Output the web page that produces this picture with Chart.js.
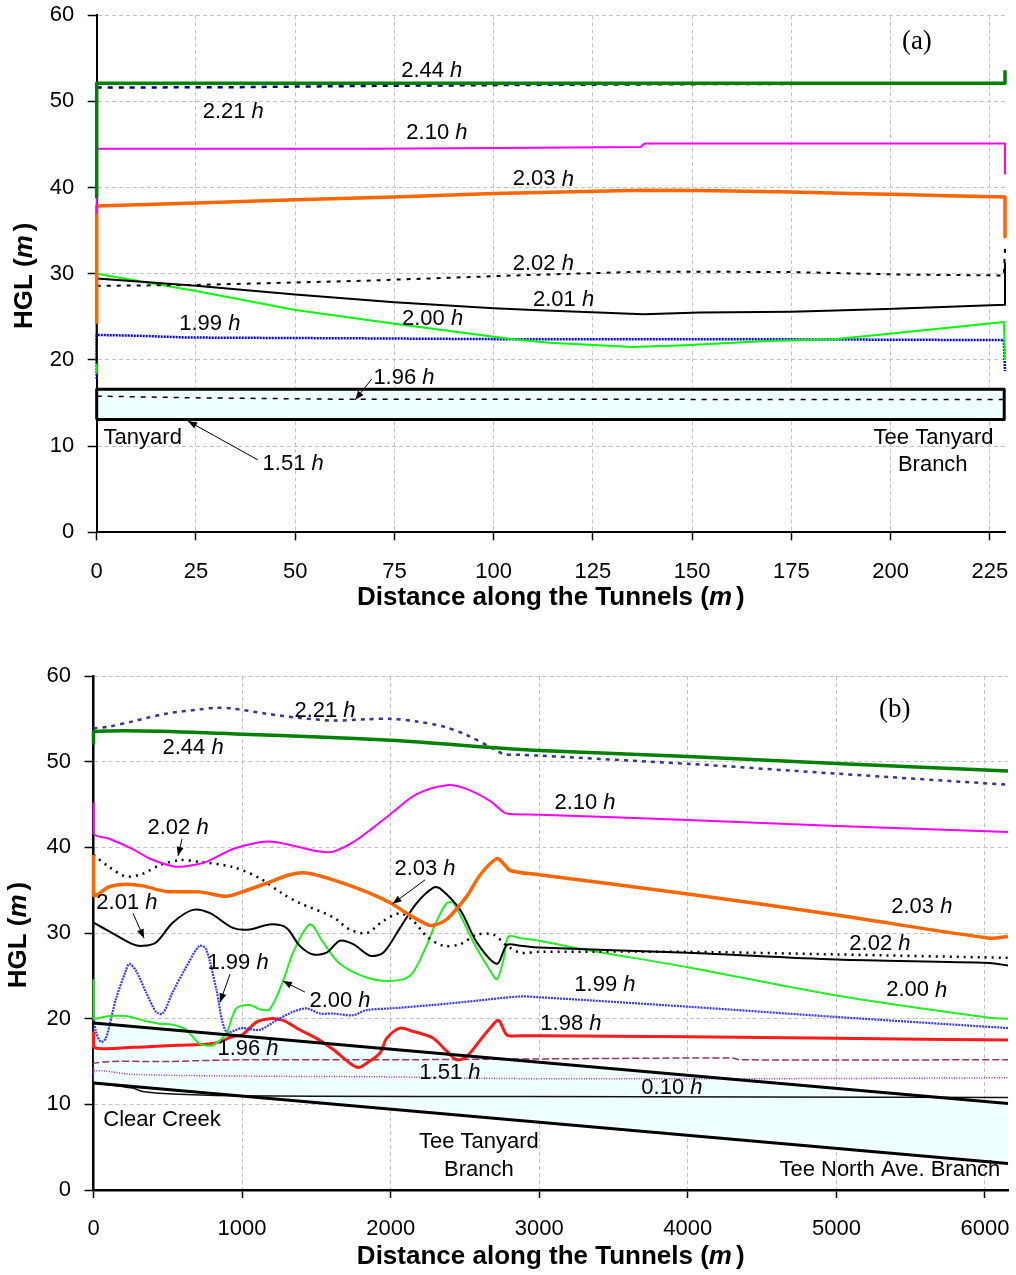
<!DOCTYPE html>
<html><head><meta charset="utf-8">
<script src="https://cdn.jsdelivr.net/npm/chart.js@4.4.0/dist/chart.umd.min.js"></script>
<style>
html,body{margin:0;padding:0;background:#fff;}
#wrap{position:relative;width:1016px;height:1275px;background:#fff;}
canvas{position:absolute;left:0;}
#ca{top:0;} #cb{top:640px;}
</style></head><body>
<div id="wrap"><canvas id="ca" width="1016" height="620"></canvas><canvas id="cb" width="1016" height="635"></canvas></div>
<script>
// ---------------- tick labels ----------------
const yTicks = [0, 10, 20, 30, 40, 50, 60];
const aXTicks = [0, 25, 50, 75, 100, 125, 150, 175, 200, 225];
const bXTicks = [0, 1000, 2000, 3000, 4000, 5000, 6000];
const aXMax = 228.8;
const bXMax = 6155;

// ---------------- panel (a): distance (m) / HGL (m) ----------------
const aDist244 = [0, 0, 228.8, 228.8];
const aHgl244  = [38.8, 52.1, 52.1, 53.6];
const aDist221 = [0, 35, 70, 105, 150, 228.8];
const aHgl221  = [51.6, 51.65, 51.8, 51.9, 52.0, 52.1];
const aDist210 = [0, 0, 70, 101, 137, 138, 228.8, 228.8];
const aHgl210  = [37.0, 44.5, 44.5, 44.6, 44.7, 45.1, 45.1, 41.6];
const aDist203 = [0, 0, 25, 50, 75, 100, 137, 152, 175, 190, 203, 214, 223, 228.8, 228.8];
const aHgl203  = [24.2, 37.85, 38.2, 38.6, 38.9, 39.3, 39.7, 39.65, 39.5, 39.3, 39.2, 39.05, 38.95, 38.9, 34.3];
const aDist202 = [0, 25, 68, 105, 138, 175, 203, 228.5, 228.8];
const aHgl202  = [28.6, 28.7, 29.2, 29.8, 30.25, 30.2, 29.9, 29.8, 33.0];
const aDist201 = [0, 0, 25, 50, 75, 100, 110, 137.7, 152, 175, 199, 228.8, 228.8];
const aHgl201  = [19.6, 29.45, 28.6, 27.6, 26.7, 26.0, 25.8, 25.3, 25.5, 25.6, 25.9, 26.4, 31.3];
const aDist200 = [0, 0, 25, 50, 75, 100, 105, 114, 135, 148, 169, 185.6, 199, 228.5, 228.8];
const aHgl200  = [18.4, 30.0, 28.0, 25.8, 24.2, 22.7, 22.4, 22.0, 21.5, 21.7, 22.2, 22.4, 23.0, 24.4, 20.0];
const aDist199 = [0, 0, 11, 22.8, 68.5, 105, 168, 228.5, 228.8];
const aHgl199  = [17.8, 22.9, 22.8, 22.6, 22.5, 22.4, 22.4, 22.3, 18.7];
const aDist196 = [0, 25, 60, 228.8];
const aHgl196  = [15.8, 15.6, 15.45, 15.4];
const aDist151 = [0, 228.6];
const aHgl151  = [13.1, 13.1];
const aTunnelX      = [0, 228.6];
const aTunnelTop    = [16.6, 16.6];
const aTunnelBottom = [13.1, 13.1];

// ---------------- panel (b) ----------------
const bDist244 = [0, 0, 1000, 2000, 2730, 3000, 4000, 5000, 6155];
const bHgl244  = [52.0, 53.5, 53.2, 52.5, 51.6, 51.3, 50.6, 49.8, 48.9];
const bDist221 = [0, 106, 263, 488, 713, 826, 938, 1163, 1388, 1613, 1838, 2000, 2175, 2355, 2513, 2693, 2760, 2873, 3000, 4000, 5000, 6155];
const bHgl221  = [53.9, 54.1, 54.7, 55.6, 56.1, 56.3, 56.2, 55.6, 55.1, 54.8, 54.95, 55.0, 54.7, 54.1, 53.1, 51.5, 50.9, 50.8, 50.7, 49.75, 48.6, 47.3];
const bDist210 = [0, 0, 106, 263, 376, 533, 623, 758, 938, 1118, 1231, 1388, 1523, 1613, 1748, 1883, 2000, 2175, 2378, 2513, 2670, 2760, 2800, 3000, 4000, 5000, 6155];
const bHgl210  = [45.2, 41.6, 41.0, 39.8, 38.7, 37.8, 37.8, 38.3, 39.8, 40.6, 40.6, 40.0, 39.5, 39.5, 40.6, 42.3, 43.9, 46.2, 47.25, 46.8, 45.4, 44.1, 43.9, 43.8, 43.2, 42.5, 41.8];
const bDist203 = [0, 0, 106, 218, 331, 488, 713, 893, 1000, 1163, 1320, 1433, 1613, 1838, 2000, 2108, 2243, 2288, 2378, 2513, 2603, 2715, 2760, 2805, 3000, 4000, 5000, 6030, 6155];
const bHgl203  = [39.1, 34.4, 35.4, 35.7, 35.5, 34.85, 34.8, 34.3, 34.8, 35.8, 36.8, 37.0, 36.2, 34.8, 33.5, 32.3, 31.0, 30.9, 31.6, 34.3, 36.8, 38.7, 38.1, 37.3, 36.8, 34.55, 32.1, 29.4, 29.6];
const bDist202 = [0, 106, 218, 331, 443, 578, 713, 938, 1118, 1276, 1388, 1613, 1725, 1838, 1950, 2063, 2153, 2243, 2355, 2468, 2580, 2693, 2783, 2873, 3000, 4000, 5000, 6155];
const bHgl202  = [39.1, 37.7, 36.6, 36.9, 37.9, 38.5, 38.3, 37.7, 36.4, 34.55, 33.5, 31.85, 30.4, 30.0, 31.4, 32.3, 31.4, 29.6, 28.5, 28.7, 29.8, 29.8, 28.5, 27.7, 27.8, 27.8, 27.5, 27.1];
const bDist201 = [0, 106, 263, 331, 421, 533, 668, 781, 938, 1051, 1186, 1298, 1388, 1478, 1568, 1658, 1748, 1861, 1950, 2063, 2175, 2288, 2333, 2468, 2580, 2715, 2783, 2873, 3000, 4000, 5000, 6030, 6155];
const bHgl201  = [31.2, 30.2, 28.7, 28.5, 28.9, 31.2, 32.7, 32.35, 30.6, 30.4, 31.0, 30.6, 28.5, 27.5, 27.7, 29.1, 28.7, 27.35, 27.7, 30.6, 33.5, 35.3, 35.2, 32.7, 28.9, 26.4, 28.6, 28.5, 28.3, 27.7, 26.9, 26.5, 26.2];
const bDist200 = [0, 0, 16, 106, 218, 331, 443, 533, 623, 713, 803, 893, 961, 1051, 1118, 1186, 1276, 1343, 1456, 1546, 1658, 1838, 2000, 2130, 2220, 2310, 2378, 2423, 2558, 2670, 2715, 2760, 2794, 2873, 3000, 3292, 4000, 5000, 6030, 6155];
const bHgl200  = [24.6, 20.0, 20.0, 20.3, 20.3, 19.8, 19.4, 19.3, 18.7, 17.1, 16.9, 18.3, 21.2, 21.6, 21.1, 21.1, 24.4, 27.7, 31.0, 28.9, 26.4, 24.8, 24.4, 25.0, 27.7, 31.4, 33.5, 33.5, 28.9, 25.6, 24.6, 26.9, 29.6, 29.4, 29.1, 28.1, 26.0, 22.7, 20.1, 20.0];
const bDist199 = [0, 16, 49, 83, 151, 218, 241, 286, 353, 421, 466, 533, 623, 713, 758, 826, 893, 1000, 1118, 1231, 1343, 1433, 1523, 1613, 1748, 1838, 2000, 2288, 2580, 2873, 3000, 4000, 5000, 6155];
const bHgl199  = [20.2, 18.5, 17.3, 17.7, 22.3, 25.6, 26.4, 25.6, 23.1, 20.8, 20.6, 23.1, 26.0, 28.5, 28.1, 23.5, 18.5, 18.9, 18.7, 19.8, 20.8, 21.2, 20.6, 20.6, 20.4, 21.0, 21.2, 21.6, 22.1, 22.6, 22.5, 21.4, 20.2, 18.9];
const bDist198 = [0, 0, 263, 556, 803, 938, 1000, 1096, 1186, 1276, 1388, 1501, 1613, 1725, 1782, 1838, 1928, 1973, 2063, 2153, 2198, 2288, 2378, 2445, 2513, 2603, 2670, 2726, 2783, 2873, 3000, 4000, 5000, 6155];
const bHgl198  = [18.5, 16.65, 16.65, 16.9, 17.1, 17.9, 18.1, 19.6, 20.0, 19.8, 18.7, 17.7, 16.4, 14.8, 14.3, 14.8, 16.0, 17.7, 18.9, 18.5, 18.3, 17.7, 16.2, 15.2, 15.6, 17.5, 18.9, 19.8, 18.1, 18.0, 18.0, 17.9, 17.7, 17.5];
const bDist196 = [0, 0, 500, 1000, 2000, 3000, 4300, 4350, 6155];
const bHgl196  = [13.5, 14.8, 15.0, 15.2, 15.2, 15.3, 15.4, 15.2, 15.2];
const bDist151 = [0, 0, 263, 1000, 2000, 2873, 4700, 6155];
const bHgl151  = [12.8, 13.9, 13.5, 13.3, 13.2, 13.0, 13.0, 13.1];
const bDist010 = [0, 263, 331, 533, 938, 1500, 2873, 6155];
const bHgl010  = [12.5, 11.9, 11.5, 11.2, 11.0, 10.95, 10.9, 10.8];
const bTunnelX      = [0, 6155];
const bTunnelTop    = [19.5, 10.1];
const bTunnelBottom = [12.5, 3.1];

// ---------------- helpers ----------------
const FONT = "'Liberation Sans', Arial, Helvetica, sans-serif";
const SERIF = "'Liberation Serif', 'Times New Roman', serif";
function pts(xs, ys) { return xs.map((v, i) => ({x: v, y: ys[i]})); }
function ser(xs, ys, color, width, dash, extra) {
  return Object.assign({data: pts(xs, ys), borderColor: color, borderWidth: width, borderDash: dash || [],
    pointRadius: 0, fill: false, clip: false, backgroundColor: color}, extra || {});
}

function drawParts(ctx, parts, cx, cy) {
  let total = 0;
  parts.forEach(p => { ctx.font = p.f; p.w = ctx.measureText(p.t).width + (p.gap || 0); total += p.w; });
  let x = cx - total / 2;
  ctx.textAlign = 'left'; ctx.textBaseline = 'middle';
  parts.forEach(p => { ctx.font = p.f; ctx.fillText(p.t, x + (p.gap || 0), cy); x += p.w; });
}

const annotPlugin = {
  id: 'annot',
  afterDatasetsDraw(chart, args, opts) {
    const {ctx} = chart; const xs = chart.scales.x, ys = chart.scales.y;
    ctx.save();
    ctx.fillStyle = '#000'; ctx.strokeStyle = '#000';
    (opts.arrows || []).forEach(a => {
      const x1 = xs.getPixelForValue(a[0]), y1 = ys.getPixelForValue(a[1]);
      const x2 = xs.getPixelForValue(a[2]), y2 = ys.getPixelForValue(a[3]);
      ctx.lineWidth = 1; ctx.setLineDash([]);
      ctx.beginPath(); ctx.moveTo(x1, y1); ctx.lineTo(x2, y2); ctx.stroke();
      const ang = Math.atan2(y2 - y1, x2 - x1), L = 9, W = 3.5;
      ctx.beginPath(); ctx.moveTo(x2, y2);
      ctx.lineTo(x2 - L * Math.cos(ang) + W * Math.sin(ang), y2 - L * Math.sin(ang) - W * Math.cos(ang));
      ctx.lineTo(x2 - L * Math.cos(ang) - W * Math.sin(ang), y2 - L * Math.sin(ang) + W * Math.cos(ang));
      ctx.closePath(); ctx.fill();
    });
    (opts.labels || []).forEach(l => {
      const px = xs.getPixelForValue(l.x), py = ys.getPixelForValue(l.y);
      let parts;
      if (l.serif) parts = [{t: l.text, f: '27px ' + SERIF}];
      else if (l.h) parts = [{t: l.text + ' ', f: '22px ' + FONT}, {t: 'h', f: 'italic 22px ' + FONT}];
      else parts = [{t: l.text, f: '22px ' + FONT}];
      drawParts(ctx, parts, px, py);
    });
    const ca = chart.chartArea;
    const tf = 'bold 26px ' + FONT, ti = 'bold italic 26px ' + FONT;
    drawParts(ctx, [{t: 'Distance along the Tunnels (', f: tf}, {t: 'm', f: ti}, {t: ')', f: tf, gap: 4}],
      (ca.left + ca.right) / 2, ca.bottom + opts.xTitleOffset);
    ctx.save();
    ctx.translate(opts.yTitleX, (ca.top + ca.bottom) / 2 + 2);
    ctx.rotate(-Math.PI / 2);
    drawParts(ctx, [{t: 'HGL (', f: tf}, {t: 'm', f: ti}, {t: ')', f: tf, gap: 4}], 0, 0);
    ctx.restore();
    ctx.restore();
  }
};

function makeOptions(cfg) {
  return {
    responsive: false, animation: false, devicePixelRatio: 1, events: [],
    layout: {padding: {top: cfg.padTop, right: cfg.padRight, left: 0, bottom: 0}},
    elements: {point: {radius: 0}, line: {tension: cfg.tension, borderCapStyle: 'butt', borderJoinStyle: 'round'}},
    plugins: {
      legend: {display: false}, tooltip: {enabled: false},
      filler: {drawTime: 'beforeDatasetsDraw'},
      annot: cfg.annot
    },
    scales: {
      x: {
        type: 'linear', min: 0, max: cfg.xMax,
        afterBuildTicks: s => { s.ticks = cfg.xTicks.map(v => ({value: v})); },
        afterFit: s => { s.height = cfg.xAxisH; s.paddingLeft = 0; s.paddingRight = 0; },
        ticks: {color: '#000', font: {family: FONT, size: 22}, padding: cfg.xTickPad, maxRotation: 0, autoSkip: false,
          callback: v => String(v)},
        grid: {color: '#c4c4c4', lineWidth: 1, tickColor: '#000', tickLength: 8, tickWidth: 1.5},
        border: {color: '#000', width: cfg.axisW, dash: [4, 3]}
      },
      y: {
        type: 'linear', min: 0, max: 60,
        afterBuildTicks: s => { s.ticks = yTicks.map(v => ({value: v})); },
        afterFit: s => { s.width = cfg.yAxisW; s.paddingTop = 0; s.paddingBottom = 0; },
        ticks: {color: '#000', font: {family: FONT, size: 22}, padding: cfg.yTickPad, autoSkip: false,
          callback: v => String(v)},
        grid: {color: '#c4c4c4', lineWidth: 1, tickColor: '#000', tickLength: 9, tickWidth: 1.5},
        border: {color: '#000', width: cfg.axisW, dash: [4, 3]}
      }
    }
  };
}

// ---------------- chart (a) ----------------
const aBoxX = [aTunnelX[0], aTunnelX[0], aTunnelX[1], aTunnelX[1], aTunnelX[0]];
const aBoxY = [aTunnelBottom[0], aTunnelTop[0], aTunnelTop[1], aTunnelBottom[1], aTunnelBottom[0]];
const aDatasets = [
  ser(aBoxX, aBoxY, '#000', 3),
  ser(aTunnelX, aTunnelTop, 'rgba(0,0,0,0)', 0),
  ser(aTunnelX, aTunnelBottom, 'rgba(0,0,0,0)', 0, [], {fill: '-1', backgroundColor: '#f0ffff'}),
  ser(aDist244, aHgl244, '#008000', 3.5),
  ser(aDist221, aHgl221, '#000080', 2.5, [5, 6]),
  ser(aDist210, aHgl210, '#ff00ff', 2),
  ser(aDist203, aHgl203, '#ff6600', 3.5),
  ser(aDist202, aHgl202, '#000', 2, [4, 6]),
  ser(aDist201, aHgl201, '#000', 2),
  ser(aDist200, aHgl200, '#00ff00', 2),
  ser(aDist199, aHgl199, '#0000ff', 2.5, [2, 1]),
  ser(aDist196, aHgl196, '#000', 1.5, [5, 6]),
  ser(aDist151, aHgl151, '#000', 1.5, [1, 2])
];
const aAnnot = {
  xTitleOffset: 66, yTitleX: 25,
  labels: [
    {text: '(a)', serif: true, x: 206.6, y: 56.9},
    {text: '2.44', h: true, x: 84.4, y: 53.55},
    {text: '2.21', h: true, x: 34.4, y: 48.8},
    {text: '2.10', h: true, x: 85.7, y: 46.35},
    {text: '2.03', h: true, x: 112.5, y: 40.95},
    {text: '2.02', h: true, x: 112.5, y: 31.15},
    {text: '2.01', h: true, x: 117.6, y: 27.0},
    {text: '2.00', h: true, x: 84.6, y: 24.75},
    {text: '1.99', h: true, x: 28.5, y: 24.2},
    {text: '1.96', h: true, x: 77.4, y: 17.95},
    {text: 'Tanyard', x: 11.6, y: 11.0},
    {text: '1.51', h: true, x: 49.5, y: 7.95},
    {text: 'Tee Tanyard', x: 210.8, y: 11.0},
    {text: 'Branch', x: 210.6, y: 7.8}
  ],
  arrows: [[69.3, 17.8, 65.1, 15.35], [40.6, 8.4, 23.0, 12.9]]
};
new Chart(document.getElementById('ca'), {
  type: 'line',
  data: {datasets: aDatasets},
  options: makeOptions({padTop: 15.2, padRight: 11, xMax: aXMax, xTicks: aXTicks, xAxisH: 87.7, yAxisW: 96.7,
    xTickPad: 18, yTickPad: 13.5, axisW: 2, tension: 0, annot: aAnnot}),
  plugins: [annotPlugin]
});

// ---------------- chart (b) ----------------
const bDatasets = [
  ser(bTunnelX, bTunnelTop, '#000', 3),
  ser(bTunnelX, bTunnelBottom, '#000', 3, [], {fill: '-1', backgroundColor: '#f0ffff'}),
  ser(bDist244, bHgl244, '#008000', 3.5),
  ser(bDist221, bHgl221, '#333399', 2.5, [4, 5]),
  ser(bDist210, bHgl210, '#ff00ff', 2),
  ser(bDist203, bHgl203, '#ff6600', 3.5),
  ser(bDist202, bHgl202, '#000', 2.5, [2, 5]),
  ser(bDist201, bHgl201, '#000', 2),
  ser(bDist200, bHgl200, '#22ee22', 2),
  ser(bDist199, bHgl199, '#3838ff', 2.2, [2, 1]),
  ser(bDist198, bHgl198, '#ff1a1a', 3),
  ser(bDist196, bHgl196, '#993366', 1.5, [7, 3]),
  ser(bDist151, bHgl151, '#9933cc', 1.5, [1, 1.5]),
  ser(bDist010, bHgl010, '#111', 1.5)
];
const bAnnot = {
  xTitleOffset: 67, yTitleX: 19,
  labels: [
    {text: '(b)', serif: true, x: 5393, y: 56.0},
    {text: '2.21', h: true, x: 1558, y: 55.9},
    {text: '2.44', h: true, x: 670, y: 51.6},
    {text: '2.10', h: true, x: 3308, y: 45.2},
    {text: '2.02', h: true, x: 569, y: 42.3},
    {text: '2.03', h: true, x: 2231, y: 37.5},
    {text: '2.01', h: true, x: 225, y: 33.5},
    {text: '1.99', h: true, x: 973, y: 26.5},
    {text: '2.00', h: true, x: 1659, y: 22.1},
    {text: '1.99', h: true, x: 3442, y: 23.9},
    {text: '1.98', h: true, x: 3213, y: 19.4},
    {text: '1.96', h: true, x: 1040, y: 16.5},
    {text: '1.51', h: true, x: 2399, y: 13.7},
    {text: '0.10', h: true, x: 3893, y: 11.9},
    {text: '2.03', h: true, x: 5575, y: 33.0},
    {text: '2.02', h: true, x: 5293, y: 28.7},
    {text: '2.00', h: true, x: 5541, y: 23.3},
    {text: 'Clear Creek', x: 461, y: 8.2},
    {text: 'Tee Tanyard', x: 2594, y: 5.6},
    {text: 'Branch', x: 2594, y: 2.35},
    {text: 'Tee North Ave. Branch', x: 5360, y: 2.35}
  ],
  arrows: [[596, 41.0, 569, 39.0], [2231, 36.2, 2013, 33.4], [266, 32.3, 340, 29.4],
           [919, 25.2, 851, 21.9], [1423, 23.1, 1275, 24.4]]
};
new Chart(document.getElementById('cb'), {
  type: 'line',
  data: {datasets: bDatasets},
  options: makeOptions({padTop: 36, padRight: 8, xMax: bXMax, xTicks: bXTicks, xAxisH: 85, yAxisW: 93.5,
    xTickPad: 18, yTickPad: 13.5, axisW: 2.5, tension: 0.3, annot: bAnnot}),
  plugins: [annotPlugin]
});
</script></body></html>
